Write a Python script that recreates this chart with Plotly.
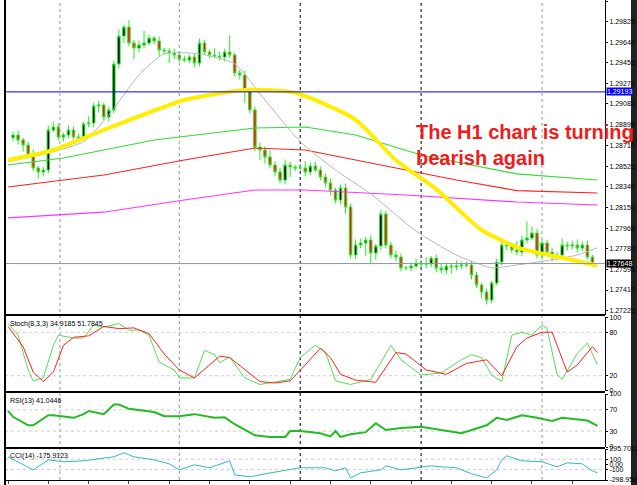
import plotly.graph_objects as go

closes = [1.28805,1.2876,1.28715,1.28625,1.28508,1.28472,1.2849,1.2885,1.28877,1.28787,
1.28805,1.2885,1.28787,1.28778,1.28904,1.28913,1.29066,1.29075,1.28967,1.2903,
1.29444,1.29696,1.29777,1.29633,1.29588,1.29615,1.29633,1.29678,1.29651,1.2957,
1.29561,1.29543,1.29525,1.29489,1.2948,1.29507,1.29453,1.29633,1.29552,1.29525,
1.29516,1.29507,1.29552,1.29525,1.29363,1.29345,1.2921,1.2903,1.28697,1.2867,
1.28607,1.28535,1.28472,1.284,1.28535,1.28517,1.28508,1.28508,1.28472,1.28526,
1.2849,1.28427,1.28373,1.2831,1.2822,1.28328,1.28157,1.27725,1.27815,1.27833,
1.2786,1.27743,1.27806,1.28094,1.27815,1.27725,1.27707,1.27608,1.27608,1.27626,
1.27653,1.27644,1.27644,1.27698,1.27608,1.2759,1.27626,1.27617,1.27626,1.27635,
1.27635,1.27545,1.27455,1.27392,1.2732,1.27473,1.27662,1.27815,1.27806,1.2777,
1.27752,1.2786,1.27878,1.27923,1.27725,1.27833,1.27752,1.27707,1.27725,1.27815,
1.27806,1.27815,1.27788,1.27815,1.27707,1.27648]
first_open = 1.2878
upper_wick = [30,40,20,30,50,20,30,40,50,30,20,40,30,30,20,60,30,40,20,30,
30,60,20,60,30,40,110,30,20,40,20,30,40,20,30,20,30,40,30,20,
60,40,30,150,20,30,40,20,30,40,30,60,30,40,50,30,20,40,60,30,
40,30,30,40,20,30,40,30,50,40,30,40,20,40,30,30,40,30,20,30,
40,30,60,20,30,40,30,20,50,30,30,40,30,20,30,20,30,40,30,20,
80,40,150,60,40,30,30,40,30,60,30,40,50,30,40,20]
lower_wick = [30,40,60,30,30,60,40,30,20,30,40,30,20,30,20,30,40,60,30,40,
30,40,60,30,100,40,30,20,30,60,30,90,40,30,20,30,40,30,20,30,
20,30,40,30,30,40,120,30,40,90,60,30,40,30,40,90,30,20,40,30,
20,30,40,50,30,40,60,30,40,30,120,90,60,40,30,30,40,30,20,30,
20,30,40,30,40,30,40,60,30,30,20,40,30,60,40,30,20,30,40,30,
30,40,30,20,30,40,30,40,30,20,40,30,40,30,20,30]

ma_grey_i = [-1,8,14,19,25,30,37,44,50,57,64,71,80,88,95,100,106,112,116]
ma_grey = [1.28565,1.28655,1.28745,1.28985,1.29345,1.29535,1.29535,1.29445,1.2912,1.28745,1.2849,1.28275,1.2794,1.27725,1.2761,1.27635,1.27675,1.27725,1.2779]
ma_yellow_i = [-1,8,18,34,46,56,68,76,84,93,101,109,116]
ma_yellow = [1.28580,1.2867,1.2885,1.2912,1.2921,1.29185,1.28942,1.28578,1.28318,1.2795,1.2778,1.2770,1.2763]
ma_green_i = [-1,10,28,48,58,68,81,100,116]
ma_green = [1.28535,1.28598,1.2876,1.28868,1.28877,1.28805,1.28625,1.28455,1.2840]
ma_red_i = [-1,18,34,48,58,68,88,100,116]
ma_red = [1.28337,1.28445,1.2858,1.28688,1.2867,1.2858,1.284,1.28305,1.28283]
ma_mag_i = [-1,18,34,48,58,78,100,116]
ma_mag = [1.2806,1.2811,1.2822,1.2831,1.2831,1.28265,1.28202,1.28175]

stk_k_i = [-1,1,3,4,6,8,9,12,14,16,18,21,23,25,27,29,32,33,36,38,40,41,43,46,49,52,55,57,60,62,64,67,71,75,77,81,85,89,91,93,95,97,99,101,103,105,106,108,109,112,114,116]
stk_k = [92,76,28,13,17,62,76,72,72,90,87,92,83,83,76,39,28,17,17,55,49,38,46,17,8,12,15,45,62,53,13,8,15,62,42,21,24,42,49,45,21,12,76,80,76,90,85,21,15,51,65,35]
stk_d_i = [-1,2,4,6,8,10,12,15,18,21,24,27,30,33,36,39,41,43,46,49,52,55,58,61,63,65,68,72,76,78,82,86,90,94,97,100,102,105,107,110,112,115,116]
stk_d = [88,60,25,12,25,62,73,75,88,85,86,78,50,28,17,35,47,45,28,12,10,13,35,58,45,22,14,11,52,50,28,22,37,42,20,60,72,80,80,25,35,60,52]

rsi_i = [-1,0,3,4,7,8,12,14,15,18,20,21,23,28,30,33,36,40,42,44,48,51,54,55,57,61,63,64,65,67,70,72,74,77,81,89,94,96,98,101,104,107,109,111,114,116]
rsi = [68,57,41,41,60,60,55,62,68,62,80,80,72,66,58,58,62,55,56,43,22,19,19,30,30,26,20,30,19,24,28,45,32,36,38,26,41,55,51,60,55,49,55,53,50,40]

cci_i = [-1,4,7,10,14,20,22,24,28,31,33,36,39,43,44,47,50,55,57,60,62,64,66,67,69,73,74,77,83,85,88,91,94,96,97,98,101,105,108,110,113,115,116]
cci = [146,-104,88,50,69,146,223,146,88,11,-104,-8,-65,69,-200,-238,-180,-104,-65,-65,-65,-123,-65,-258,-161,-104,-27,-104,-27,-46,-65,-180,-258,-104,88,165,69,50,-46,30,11,-123,-161]

xtick_i = [-1,7,15,23,31,39,47,55,63,71,79,87,95,103,111]
xtick_t = ["2 Nov 2018","2 Nov 10:00","2 Nov 18:00","5 Nov 02:00","5 Nov 10:00","5 Nov 18:00","6 Nov 02:00",
           "6 Nov 10:00","6 Nov 18:00","7 Nov 02:00","7 Nov 10:00","7 Nov 18:00","8 Nov 02:00","8 Nov 10:00","8 Nov 18:00"]
sep_i = [9.3, 33, 57, 81, 105]
sep_col = ["#999999", "#999999", "#000000", "#000000", "#999999"]

price_ticks = [1.30010,1.29825,1.29640,1.29455,1.29270,1.29085,1.28895,1.28710,1.28525,1.28340,1.28155,1.27965,1.27780,1.27595,1.27410,1.27225]
price_labels = ["1.30010","1.29825","1.29640","1.29455","1.29270","1.29085","1.28895","1.28710","1.28525","1.28340","1.28155","1.27965","1.27780","1.27595","1.27410","1.27225"]
blue_level = 1.29193
last_price = 1.27648

n = len(closes)
idx = list(range(n))
opens = [first_open] + closes[:-1]
highs = [max(o, c) + u * 1e-5 for o, c, u in zip(opens, closes, upper_wick)]
lows = [min(o, c) - l * 1e-5 for o, c, l in zip(opens, closes, lower_wick)]

fig = go.Figure()
fig.add_trace(go.Scatter(x=ma_mag_i, y=ma_mag, mode="lines", line=dict(color="#ff33ff", width=1.2), yaxis="y"))
fig.add_trace(go.Scatter(x=ma_red_i, y=ma_red, mode="lines", line=dict(color="#ff2020", width=1.2), yaxis="y"))
fig.add_trace(go.Scatter(x=ma_green_i, y=ma_green, mode="lines", line=dict(color="#33dd33", width=1.2), yaxis="y"))
fig.add_trace(go.Scatter(x=ma_grey_i, y=ma_grey, mode="lines", line=dict(color="#b8b8b8", width=1, shape="spline", smoothing=0.6), yaxis="y"))
fig.add_trace(go.Scatter(x=ma_yellow_i, y=ma_yellow, mode="lines", line=dict(color="#ffee00", width=4, shape="spline", smoothing=0.6), yaxis="y"))
fig.add_trace(go.Candlestick(x=idx, open=opens, high=highs, low=lows, close=closes, whiskerwidth=0,
    increasing=dict(line=dict(color="#22ee22", width=1), fillcolor="#000000"),
    decreasing=dict(line=dict(color="#22ee22", width=1), fillcolor="#ff1010"), yaxis="y"))
fig.add_trace(go.Scatter(x=stk_k_i, y=stk_k, mode="lines", line=dict(color="#55dd55", width=1), yaxis="y2"))
fig.add_trace(go.Scatter(x=stk_d_i, y=stk_d, mode="lines", line=dict(color="#ff2020", width=1), yaxis="y2"))
fig.add_trace(go.Scatter(x=rsi_i, y=rsi, mode="lines", line=dict(color="#22bb22", width=2), yaxis="y3"))
fig.add_trace(go.Scatter(x=cci_i, y=cci, mode="lines", line=dict(color="#33bbbb", width=1), yaxis="y4"))

H = 480.0
def py(pix):
    return 1 - pix / H

font = dict(family="Liberation Sans", size=7, color="#000000")
tfont = dict(family="Liberation Sans", size=7, color="#000000")
ax_common = dict(side="right", anchor="x", showgrid=False, ticks="outside", ticklen=2, tickcolor="#000", automargin=False,
                 showline=True, linecolor="#000", linewidth=1, tickfont=tfont, zeroline=False)
shapes = []
for si, sc in zip(sep_i, sep_col):
    shapes.append(dict(type="line", xref="x", yref="paper", x0=si, x1=si, y0=0, y1=1,
                       line=dict(color=sc, width=1, dash="dot"), layer="below"))
for yy, ax in [(80, "y2"), (20, "y2"), (70, "y3"), (30, "y3"), (100, "y4"), (-100, "y4")]:
    shapes.append(dict(type="line", xref="paper", yref=ax, x0=0, x1=1, y0=yy, y1=yy,
                       line=dict(color="#cccccc", width=1, dash="dot"), layer="below"))
shapes.append(dict(type="line", xref="paper", yref="y", x0=0, x1=1, y0=blue_level, y1=blue_level, line=dict(color="#0000ff", width=1)))
shapes.append(dict(type="line", xref="paper", yref="y", x0=0, x1=1, y0=last_price, y1=last_price, line=dict(color="#8899aa", width=1)))
for pix in [315, 392, 448]:
    shapes.append(dict(type="line", xref="paper", yref="paper", x0=0, x1=1, y0=py(pix), y1=py(pix), line=dict(color="#000", width=2)))
shapes.append(dict(type="line", xref="paper", yref="paper", x0=0, x1=0, y0=-0.02, y1=1, line=dict(color="#000", width=2)))
shapes.append(dict(type="rect", xref="paper", yref="paper", x0=(631 - 5) / 600, x1=1.06, y0=-0.02, y1=1.01, fillcolor="#222222", line=dict(width=0), layer="below"))

annotations = [
    dict(xref="paper", yref="paper", x=(414 - 5) / 600, y=py(119), xanchor="left", yanchor="top", align="left", showarrow=False,
         text="<b>The H1 chart is turning<br>bearish again</b>", font=dict(family="Liberation Sans", size=20, color="#ee1c1c")),
    dict(xref="paper", yref="y", x=1.002, y=blue_level, xanchor="left", showarrow=False, text="1.29193",
         bgcolor="#0000ff", font=dict(family="Liberation Sans", size=7, color="#ffffff"), borderpad=0),
    dict(xref="paper", yref="y", x=1.002, y=last_price, xanchor="left", showarrow=False, text="1.27648",
         bgcolor="#000000", font=dict(family="Liberation Sans", size=7, color="#ffffff"), borderpad=0),
    dict(xref="paper", yref="paper", x=0.005, y=py(318), xanchor="left", yanchor="top", showarrow=False, text="Stoch(8,3,3) 34.9185 51.7845", font=font),
    dict(xref="paper", yref="paper", x=0.005, y=py(395), xanchor="left", yanchor="top", showarrow=False, text="RSI(13) 41.0446", font=font),
    dict(xref="paper", yref="paper", x=0.005, y=py(450), xanchor="left", yanchor="top", showarrow=False, text="CCI(14) -175.9123", font=font),
]

fig.update_layout(
    width=637, height=485, margin=dict(l=5, r=32, t=0, b=5),
    paper_bgcolor="#ffffff", plot_bgcolor="#ffffff", showlegend=False,
    xaxis=dict(range=[-1.6, 117.5], anchor="y4", rangeslider=dict(visible=False), showgrid=False, zeroline=False,
               tickvals=xtick_i, ticktext=xtick_t, ticks="outside", ticklen=3, tickfont=font, tickangle=0,
               automargin=False, showline=True, linecolor="#000"),
    yaxis=dict(domain=[py(315), 1], range=[1.3002 - 0.00009 * 315, 1.3002], tickvals=price_ticks,
               ticktext=price_labels, **ax_common),
    yaxis2=dict(domain=[py(391), py(317)], range=[-1, 101], tickvals=[0, 20, 80, 100], **ax_common),
    yaxis3=dict(domain=[py(447), py(394)], range=[0, 100], tickvals=[0, 30, 70, 100], **ax_common),
    yaxis4=dict(domain=[0, py(449)], range=[-298.9502, 295.7013], tickvals=[295.7013, 100, 0, -100, -298.9502],
                ticktext=["295.7013", "100", "0.00", "-100", "-298.9502"], **ax_common),
    shapes=shapes, annotations=annotations,
)
fig.write_html("out.html", config={"displayModeBar": False},
               post_script="document.body.style.margin='0px';document.body.style.overflow='hidden';")
